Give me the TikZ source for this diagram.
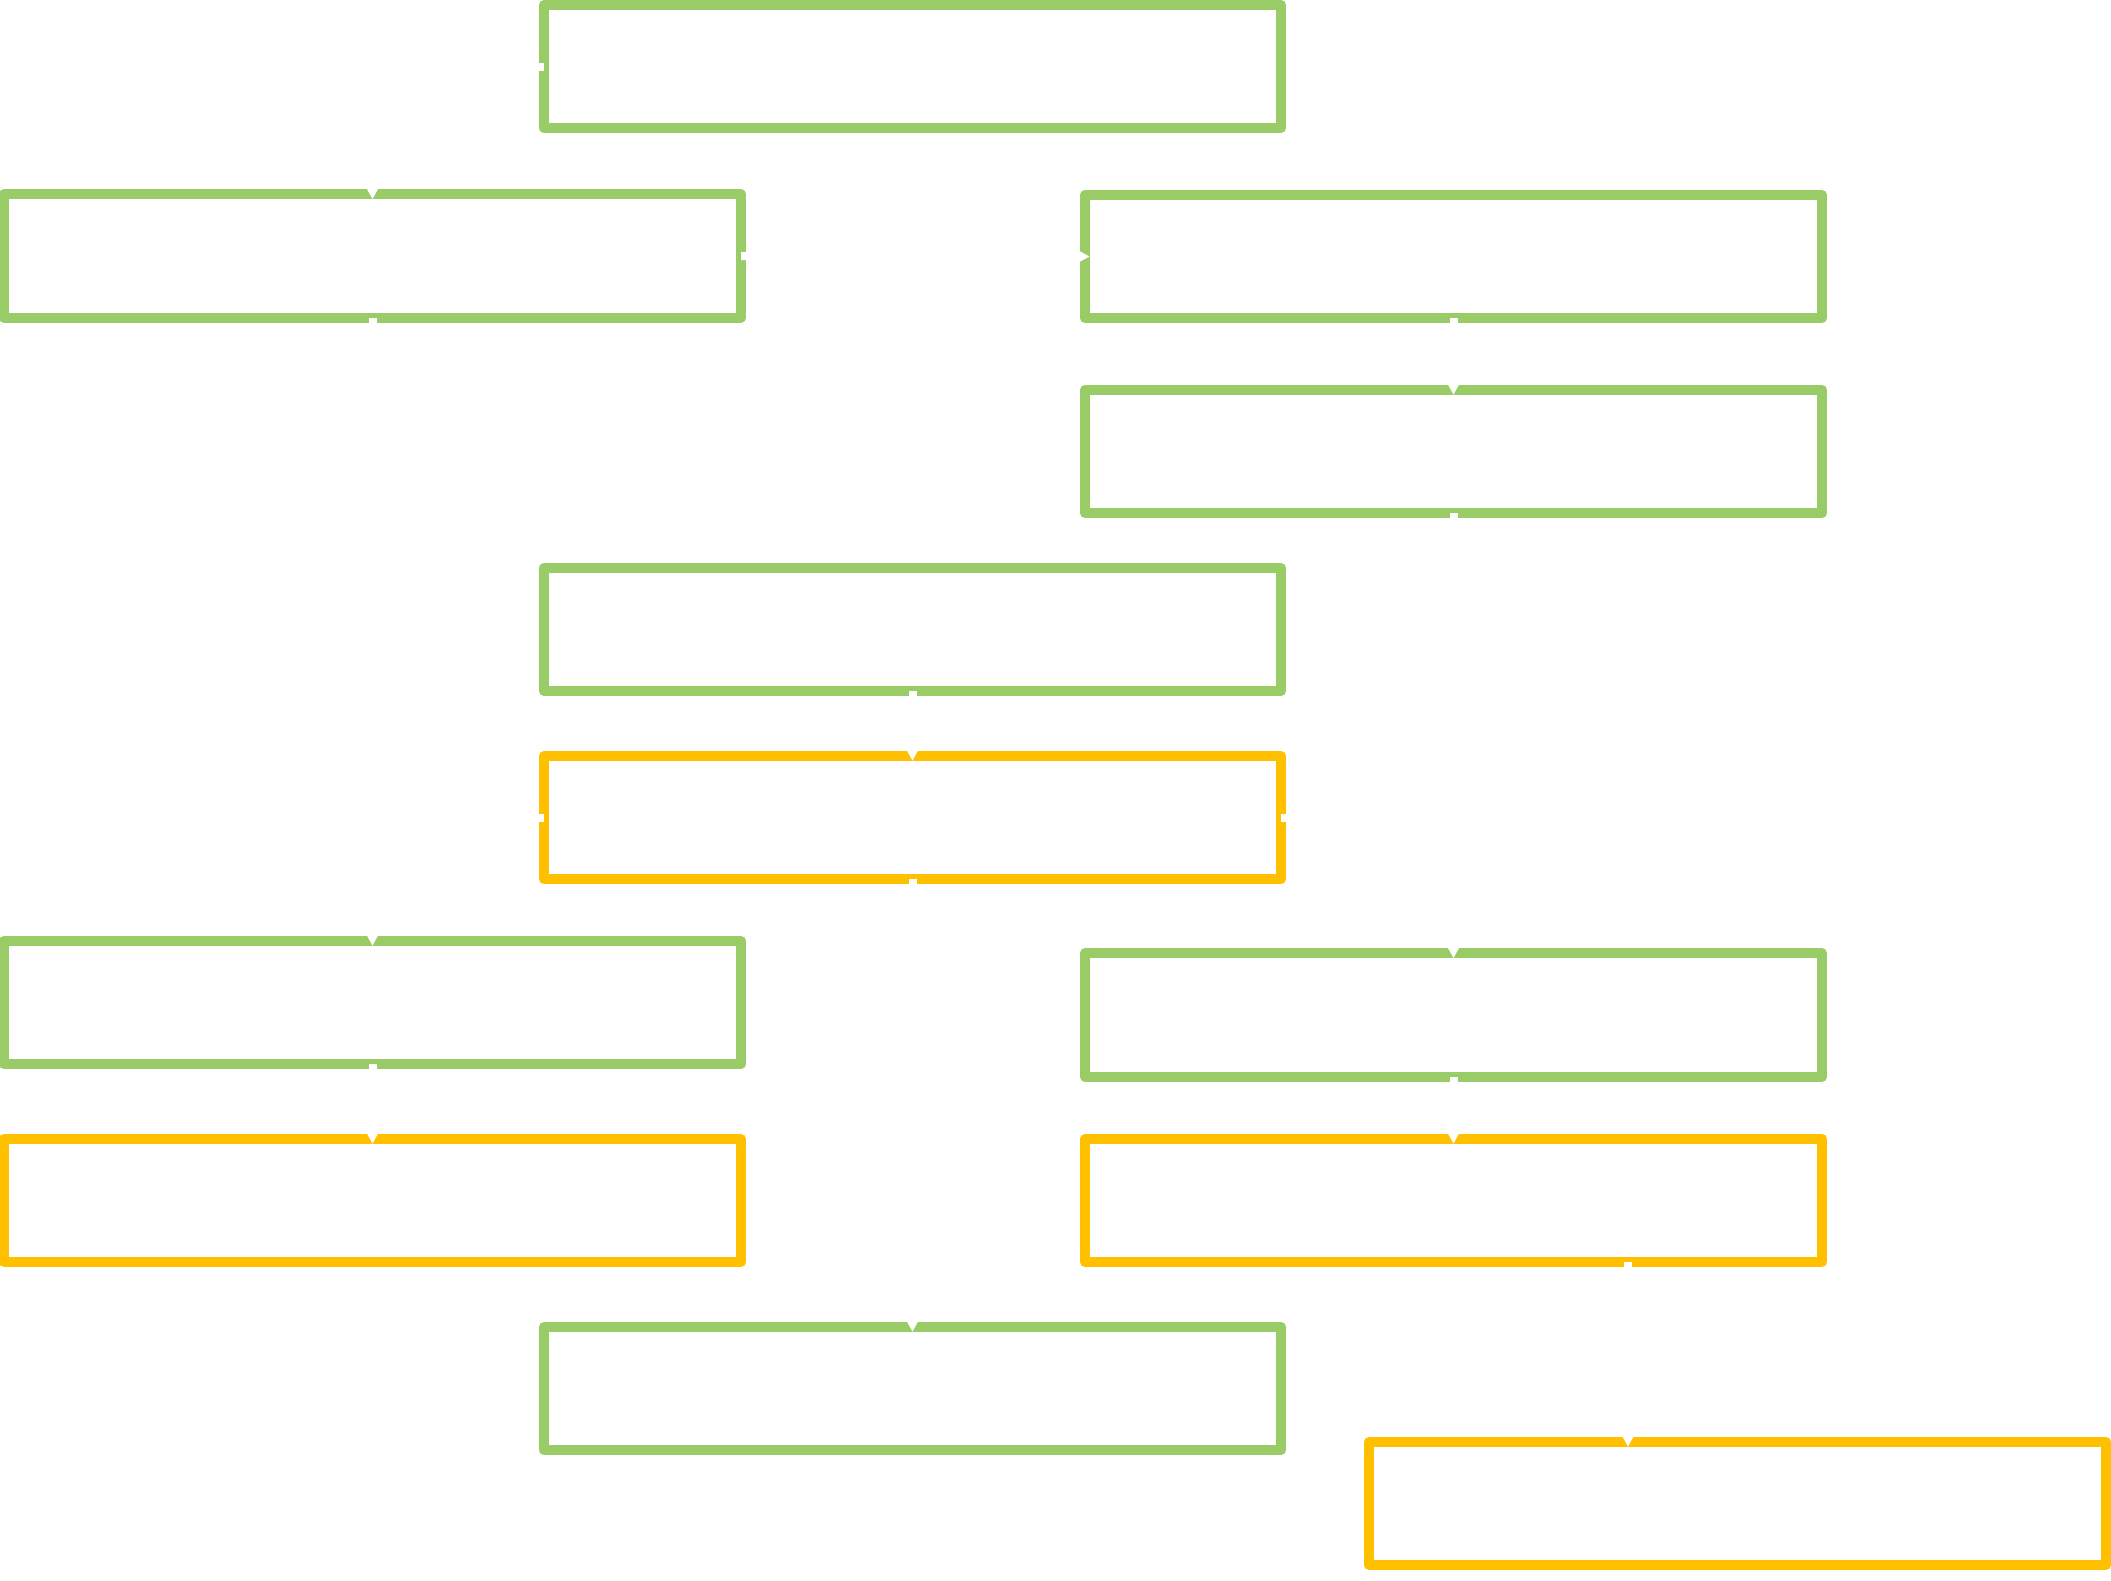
\documentclass[tikz,border=0pt]{standalone}
\usetikzlibrary{arrows.meta}
\definecolor{grn}{RGB}{153,204,102}
\definecolor{ylw}{RGB}{255,192,0}
\begin{document}
\begin{tikzpicture}[x=0.01cm,y=-0.01cm,
  box/.style={rectangle,draw=grn,fill=white,line width=0.1cm,inner sep=0pt,outer sep=0pt,
    minimum width=7.37cm,minimum height=1.23cm,line join=round},
  ybox/.style={box,draw=ylw},
  conn/.style={draw=white,line width=0.08cm,-{Triangle[length=0.2cm,width=0.2cm]},shorten >=-0.05cm},
  plain/.style={draw=white,line width=0.08cm}]
\fill[white] (0,0) rectangle (2111,1581);
\useasboundingbox (0,0) rectangle (2111,1581);
\node[box]  (A) at (912.5,66.5) {};
\node[box]  (B) at (372.5,256) {};
\node[box]  (C) at (1453.5,256.5) {};
\node[box]  (D) at (1453.5,451.5) {};
\node[box]  (E) at (912.5,629.5) {};
\node[ybox] (F) at (912.5,817.5) {};
\node[box]  (G) at (372.5,1002.5) {};
\node[box]  (H) at (1453.5,1015) {};
\node[ybox] (I) at (372.5,1200.5) {};
\node[ybox] (J) at (1453.5,1200.5) {};
\node[box]  (K) at (912.5,1388.5) {};
\node[ybox] (L) at (1737.5,1503.5) {};
\coordinate (jl) at (1628,0);
\draw[conn] (A.west) -| (B.north);
\draw[conn] (B.east) -- (C.west);
\draw[conn] (C.south) -- (D.north);
\draw[conn] (D.south) -- (H.north);
\draw[conn] (E.south) -- (F.north);
\draw[conn] (B.south) -- (G.north);
\draw[plain] (F.west) -- ++(-100,0);
\draw[plain] (F.east) -- ++(100,0);
\draw[conn] (F.south) -- (K.north);
\draw[conn] (G.south) -- (I.north);
\draw[conn] (H.south) -- (J.north);
\draw[conn] (J.south -| jl) -- (L.north -| jl);
\end{tikzpicture}
\end{document}
